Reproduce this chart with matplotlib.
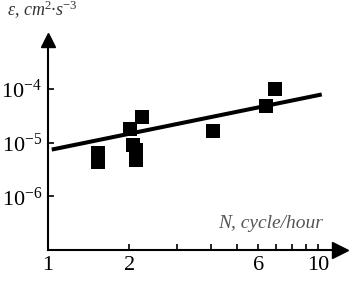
import matplotlib
matplotlib.use("Agg")
import matplotlib.pyplot as plt
from matplotlib.ticker import FixedLocator, NullFormatter, NullLocator

# measured points: N (cycle/hour) vs dissipation rate
N = [1.54, 1.54, 2.01, 2.23, 2.07, 2.12, 2.12, 4.09, 6.39, 6.92]
eps = [6.4e-6, 4.4e-6, 1.77e-5, 3.0e-5, 9.2e-6, 7.2e-6, 4.85e-6, 1.64e-5, 4.8e-5, 9.9e-5]

# fitted trend line end points
fit_N = [1.035, 10.3]
fit_eps = [7.46e-6, 7.96e-5]

x_ticks = [1, 2, 6, 10]
x_minor = [3, 4, 5, 7, 8, 9]
y_ticks = [1e-6, 1e-5, 1e-4]
y_labels = [r"$\mathregular{10^{-6}}$", r"$\mathregular{10^{-5}}$", r"$\mathregular{10^{-4}}$"]

plt.rcParams["font.family"] = ["Liberation Serif", "DejaVu Serif"]
plt.rcParams["mathtext.fontset"] = "custom"
plt.rcParams["mathtext.rm"] = "Liberation Serif"
plt.rcParams["mathtext.it"] = "Liberation Serif:italic"

fig = plt.figure(figsize=(3.49, 2.84), dpi=100)
ax = fig.add_axes([0.1367, 0.1197, 0.8375, 0.7394])

ax.plot(fit_N, fit_eps, color="black", linewidth=2.9, solid_capstyle="butt")
ax.plot(N, eps, "s", color="black", markersize=9.4, markeredgewidth=0)

ax.set_xscale("log")
ax.set_yscale("log")
ax.set_xlim(1, 12.03)
ax.set_ylim(1e-7, 8.24e-4)

ax.xaxis.set_major_locator(FixedLocator(x_ticks))
ax.set_xticklabels([str(t) for t in x_ticks])
ax.xaxis.set_minor_locator(FixedLocator(x_minor))
ax.xaxis.set_minor_formatter(NullFormatter())
ax.yaxis.set_major_locator(FixedLocator(y_ticks))
ax.set_yticklabels(y_labels)
ax.yaxis.set_minor_locator(NullLocator())

ax.tick_params(which="both", direction="in", length=4, width=1.2, labelsize=16, pad=4)

for s in ["top", "right"]:
    ax.spines[s].set_visible(False)
for s in ["left", "bottom"]:
    ax.spines[s].set_linewidth(1.5)

# arrow heads
ax.plot([0], [1], marker="^", color="black", markersize=10, transform=ax.transAxes, clip_on=False)
ax.plot([1], [0], marker=">", color="black", markersize=11.5, transform=ax.transAxes, clip_on=False)

fig.text(6.7 / 349, 1 - 16 / 284, r"ε, cm$^{2}$·s$^{-3}$", fontsize=13, style="italic",
         color="#333333", ha="left", va="baseline")
fig.text(218 / 349, 1 - 228 / 284, "N, cycle/hour", fontsize=14, style="italic",
         color="#555555", ha="left", va="baseline")

fig.savefig("out.png", dpi=100)
